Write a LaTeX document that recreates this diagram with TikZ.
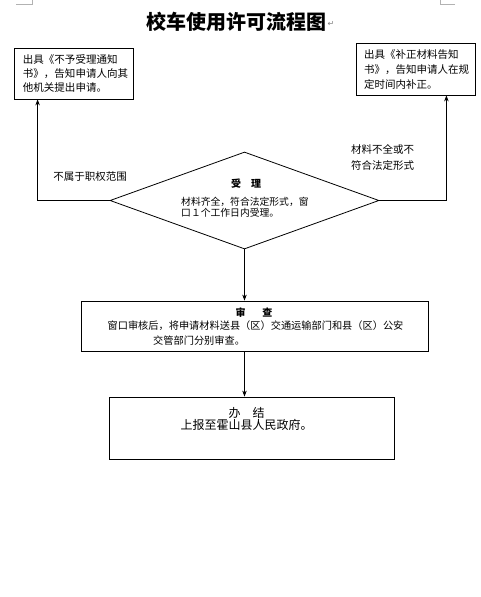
\documentclass[tikz,border=0pt]{standalone}
\usepackage{fontspec}
\setmainfont{Noto Sans CJK SC}
\newfontfamily\symfont{DejaVu Sans}
\usetikzlibrary{shapes.geometric,arrows.meta}

\begin{document}
\begin{tikzpicture}[x=1pt, y=-1pt,
    box/.style={draw, line width=0.8pt, inner sep=0pt},
    txt/.style={font=\fontsize{10.5}{14}\selectfont, inner sep=0pt},
    arr/.style={line width=0.8pt, -{Stealth[length=6pt,width=4.5pt]}}]
    \useasboundingbox (0,0) rectangle (480,597);

    % page corner marks
    \draw[gray!60, line width=0.6pt] (16,4) -- (32,4) -- (32,0);
    \draw[gray!60, line width=0.6pt] (455,4) -- (440,4) -- (440,0);

    % Title
    \node[font=\bfseries\fontsize{20}{24}\selectfont, inner sep=0pt] (ntitle) at (236,22) {校车使用许可流程图};
    \node[font=\symfont\fontsize{8}{8}\selectfont, text=gray, inner sep=0pt] (nret) at (331,24) {↵};

    % outcome boxes
    \node[box, txt, minimum width=119, minimum height=51, text width=101, align=left] (nreject) at (73.5,73.5)
        {出具《不予受理通知\\书》，告知申请人向其\\他机关提出申请。};
    \node[box, txt, font=\fontsize{10.5}{15}\selectfont, minimum width=119, minimum height=52, text width=103, align=left] (nsupply) at (415.5,69)
        {出具《补正材料告知\\书》，告知申请人在规\\定时间内补正。};

    % acceptance
    \node[diamond, draw, line width=0.8pt, minimum width=269, minimum height=97, inner sep=0pt] (ndia) at (244.5,200.5) {};
    \node[font=\bfseries\fontsize{10}{11}\selectfont, inner sep=0pt] (nacchead) at (246,184) {受\quad 理};
    \node[txt, font=\fontsize{9.8}{10.5}\selectfont, anchor=west, align=left] (nacctext) at (181,207)
        {材料齐全，符合法定形式，窗\\口１个工作日内受理。};

    % branch labels
    \node[txt] (nnoscope) at (90,177) {不属于职权范围};
    \node[txt, font=\fontsize{10.5}{16}\selectfont, anchor=west, align=left] (nincomplete) at (351,157)
        {材料不全或不\\符合法定形式};

    % review
    \node[box, minimum width=347, minimum height=50] (nreview) at (254.5,326) {};
    \node[font=\bfseries\fontsize{10}{12}\selectfont, inner sep=0pt] (nreviewhead) at (254,313) {审\hspace{1.7em}查};
    \node[txt, font=\fontsize{10.2}{12}\selectfont] (nreviewtext) at (255.5,326)
        {窗口审核后，将申请材料送县（区）交通运输部门和县（区）公安};
    \node[txt, font=\fontsize{10.2}{12}\selectfont, anchor=west] (nreviewtext2) at (153,341) {交管部门分别审查。};

    % result
    \node[box, minimum width=285, minimum height=62] (nresult) at (251.5,428) {};
    \node[font=\fontsize{12}{12}\selectfont, inner sep=0pt] (nresulthead) at (246.5,413) {办\quad 结};
    \node[font=\fontsize{12}{12}\selectfont, inner sep=0pt] (nresulttext) at (246.5,425) {上报至霍山县人民政府。};

    % connectors
    \draw[arr] (ndia.west) -| ([xshift=24pt]nreject.south west);
    \draw[arr] (ndia.east) -| ([xshift=-29pt]nsupply.south east);
    \draw[arr] (ndia.south) -- (ndia.south |- nreview.north);
    \draw[arr] (ndia.south |- nreview.south) -- (ndia.south |- nresult.north);

\end{tikzpicture}
\end{document}
